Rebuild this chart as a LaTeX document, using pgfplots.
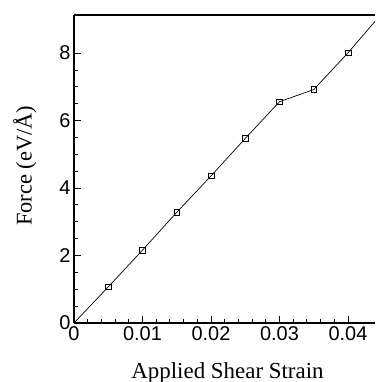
\documentclass[border=0pt]{standalone}
\usepackage{fontspec}
\setmainfont{Liberation Serif}
\newfontfamily\arialfont{Liberation Sans}
\usepackage{pgfplots}
\pgfplotsset{compat=1.18}

\begin{document}
\begin{tikzpicture}
\begin{axis}[
  name=ax,
  scale only axis,
  width=301bp, height=308bp,
  xmin=0, xmax=0.04394,
  ymin=0, ymax=9.13,
  axis x line=bottom, axis y line=left,
  axis line style={-, line width=1.6pt},
  tick align=inside,
  xtick={0,0.01,0.02,0.03,0.04},
  ytick={0,2,4,6,8},
  minor x tick num=4, minor y tick num=3,
  major tick length=7bp, minor tick length=4bp,
  tick style={black, line width=0.9pt},
  scaled x ticks=false,
  /pgf/number format/assume math mode=true,
  ticklabel style={font=\arialfont\fontsize{20}{24}\selectfont},
  xticklabel style={/pgf/number format/fixed, /pgf/number format/precision=2, yshift=0bp},
  xlabel={Applied Shear Strain},
  ylabel={Force (eV/Å)},
  every axis x label/.style={at={(axis description cs:0.51,-0.1786)}, anchor=base,
    font=\fontsize{23}{27}\selectfont},
  every axis y label/.style={at={(axis description cs:-0.163,0.51)}, anchor=center, rotate=90,
    font=\fontsize{22.5}{27}\selectfont},
]
\addplot[black, line width=0.7pt, mark=square, mark size=2.8bp,
  mark options={fill=white, line width=0.6pt},
  mark indices={2,3,4,5,6,7,8,9}] coordinates {
  (0,0)
  (0.005,1.07)
  (0.010,2.16)
  (0.015,3.28)
  (0.020,4.36)
  (0.025,5.47)
  (0.030,6.56)
  (0.035,6.92)
  (0.040,8.01)
  (0.045,9.19)
};
\end{axis}
\draw[line width=1.6pt] (ax.north west) -- (ax.north east);
\pgfresetboundingbox
\path ([xshift=-74bp,yshift=-59bp]ax.south west) rectangle ([yshift=15bp]ax.north east);
\end{tikzpicture}
\end{document}
